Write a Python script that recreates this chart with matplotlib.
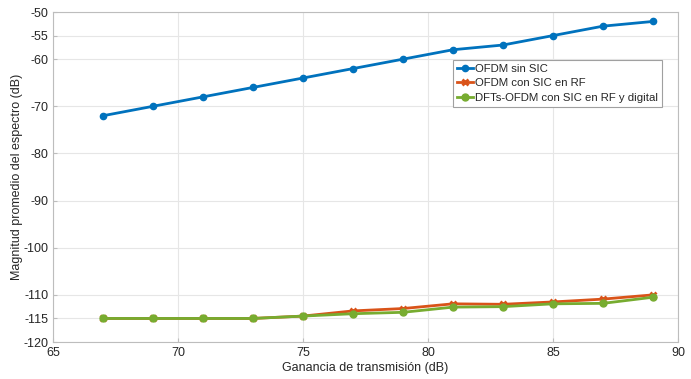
import matplotlib
matplotlib.use("Agg")
import matplotlib.pyplot as plt

plt.rcParams['font.family'] = ['Liberation Sans', 'DejaVu Sans']
plt.rcParams['axes.unicode_minus'] = False

x = [67, 69, 71, 73, 75, 77, 79, 81, 83, 85, 87, 89]
ofdm_sin = [-72, -70, -68, -66, -64, -62, -60, -58, -57, -55, -53, -52]
ofdm_rf = [-115, -115, -115, -115, -114.5, -113.4, -112.9, -111.9, -112.0, -111.5, -110.9, -110.0]
dfts_rf_dig = [-115, -115, -115, -115, -114.5, -114.0, -113.7, -112.6, -112.5, -111.9, -111.8, -110.5]
labels = ['OFDM sin SIC', 'OFDM con SIC en RF', 'DFTs-OFDM con SIC en RF y digital']
yticks = [-120, -115, -110, -100, -90, -80, -70, -60, -55, -50]
xticks = [65, 70, 75, 80, 85, 90]

fig = plt.figure(figsize=(6.91, 3.79), dpi=100)
ax = fig.add_axes([0.0767, 0.0976, 0.9045, 0.8707])

ax.plot(x, ofdm_sin, color='#0072BD', lw=2, marker='o', ms=4.5, label=labels[0])
ax.plot(x, ofdm_rf, color='#D95319', lw=2, marker='x', ms=5, mew=2, label=labels[1])
ax.plot(x, dfts_rf_dig, color='#77AC30', lw=2, marker='o', ms=5, label=labels[2])

ax.set_xlim(65, 90)
ax.set_ylim(-120, -50)
ax.set_xticks(xticks)
ax.set_yticks(yticks)
ax.grid(True, color='#e6e6e6', lw=0.8)
ax.set_axisbelow(True)
for s in ax.spines.values():
    s.set_color('#bdbdbd')
    s.set_linewidth(0.8)
ax.tick_params(direction='in', length=3, colors='#bdbdbd', labelcolor='#262626', labelsize=9)
ax.set_xlabel('Ganancia de transmisión (dB)', fontsize=9, color='#262626', labelpad=2)
ax.set_ylabel('Magnitud promedio del espectro (dB)', fontsize=9, color='#262626', labelpad=0)

leg = ax.legend(loc='upper left', bbox_to_anchor=(0.64, 0.855), fontsize=8.2,
                fancybox=False, framealpha=1, edgecolor='#a0a0a0', borderpad=0.35,
                labelspacing=0.4, handlelength=1.4, handletextpad=0.2, borderaxespad=0)
leg.get_frame().set_linewidth(0.8)
for t in leg.get_texts():
    t.set_color('#262626')

fig.savefig('out.png', dpi=100)
